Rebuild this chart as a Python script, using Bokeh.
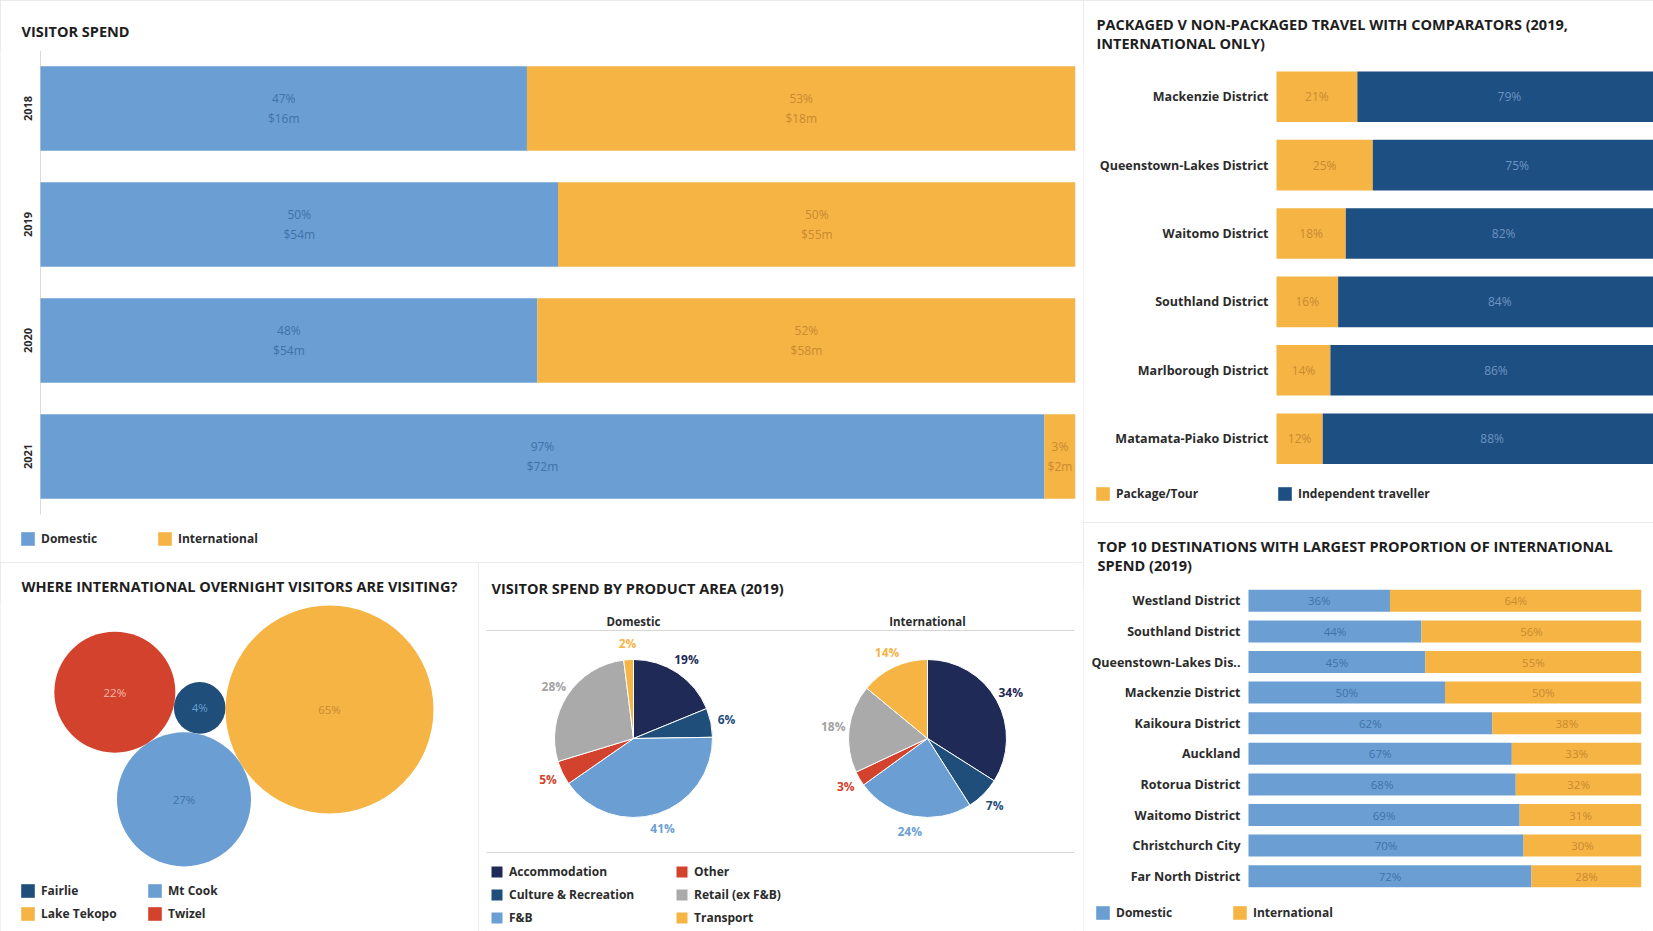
import math
from bokeh.plotting import figure
from bokeh.models import (ColumnDataSource, FactorRange, Range1d, Legend, LegendItem, Title, Span,
                          CategoricalAxis)
from bokeh.layouts import row, column
from bokeh.core.properties import value
from bokeh.embed import file_html
from bokeh.resources import INLINE

FONT = "Open Sans"

# ---------------- data ----------------
years = ["2018", "2019", "2020", "2021"]
spend_dom_pct = [47, 50, 48, 97]
spend_intl_pct = [53, 50, 52, 3]
spend_dom_m = [16, 54, 54, 72]
spend_intl_m = [18, 55, 58, 2]

pkg_districts = ["Mackenzie District", "Queenstown-Lakes District", "Waitomo District",
                 "Southland District", "Marlborough District", "Matamata-Piako District"]
pkg_package = [21, 25, 18, 16, 14, 12]
pkg_independent = [79, 75, 82, 84, 86, 88]

top_dest = ["Westland District", "Southland District", "Queenstown-Lakes Dis..", "Mackenzie District",
            "Kaikoura District", "Auckland", "Rotorua District", "Waitomo District",
            "Christchurch City", "Far North District"]
top_dom = [36, 44, 45, 50, 62, 67, 68, 69, 70, 72]
top_intl = [64, 56, 55, 50, 38, 33, 32, 31, 30, 28]

places = ["Fairlie", "Lake Tekopo", "Mt Cook", "Twizel"]
place_pct = [4, 65, 27, 22]

areas = ["Accommodation", "Culture & Recreation", "F&B", "Other", "Retail (ex F&B)", "Transport"]
area_dom = [19, 6, 41, 5, 28, 2]
area_intl = [34, 7, 24, 3, 18, 14]
pie_groups = ["Domestic", "International"]

# ---------------- colours ----------------
C_DOM = "#6b9fd3"
C_INT = "#f6b445"
C_IND = "#1e4f83"
C_DOM_TXT = "#3f72a9"
C_INT_TXT = "#c98a30"
C_IND_TXT = "#6d93c0"
place_colors = ["#1f4e7a", "#f6b445", "#6b9fd3", "#d2422c"]
place_text = ["#6b9fd3", "#c98a30", "#3f72a9", "#f6b9aa"]
area_colors = ["#1f2a56", "#1f4e7a", "#6b9fd3", "#d2422c", "#aaaaaa", "#f6b445"]
area_text = ["#1f2a56", "#1f4e7a", "#6b9fd3", "#d2422c", "#a3a3a3", "#f6b445"]
PANEL_LINE = "#e4e4e4"
LABEL_COLOR = "#2b2b2b"
TITLE_SIZE = "14.5px"


def base_fig(w, h, xr, yr, borders, **kw):
    p = figure(width=w, height=h, x_range=xr, y_range=yr, output_backend="svg",
               toolbar_location=None, title=None, x_axis_location=None, y_axis_location=None, **kw)
    p.min_border_left, p.min_border_right, p.min_border_top, p.min_border_bottom = borders
    p.frame_align = False
    p.outline_line_color = None
    p.grid.grid_line_color = None
    p.grid.visible = False
    p.background_fill_color = "white"
    p.border_fill_color = "white"
    p.styles = {"outline": "1px solid " + PANEL_LINE, "outline-offset": "-1px"}
    return p


def add_title(p, text, offset, standoff):
    t = Title(text=text, align="left", offset=offset, text_font=FONT, text_font_style="bold",
              text_font_size=TITLE_SIZE, text_color="#1e1e1e", standoff=standoff, text_line_height=1.0)
    p.add_layout(t, "above")


def make_legend(items, loc, glyph, label_w, nrows=None, orientation="horizontal", spacing=0):
    kw = {}
    if nrows:
        kw["nrows"] = nrows
    leg = Legend(items=items, location=loc, orientation=orientation, **kw)
    leg.glyph_width = glyph
    leg.glyph_height = glyph
    leg.label_width = label_w
    leg.label_height = glyph
    leg.label_standoff = 5
    leg.padding = 0
    leg.margin = 0
    leg.spacing = spacing
    leg.border_line_color = None
    leg.background_fill_alpha = 0
    leg.label_text_font = FONT
    leg.label_text_font_style = "bold"
    leg.label_text_font_size = "12px"
    leg.label_text_color = LABEL_COLOR
    leg.label_text_baseline = "middle"
    return leg


def category_labels(p, src, ycol, tcol, size="12.5px"):
    p.text(x=0, y=ycol, text=tcol, source=src, x_offset=-8, text_align="right", text_baseline="middle",
           text_font=value(FONT), text_font_style="bold", text_font_size=size, text_color=LABEL_COLOR)


# ================= 1. VISITOR SPEND =================
W1, H1, TOP1 = 1083, 562, 50
BAR0_1, PXU_1, ROW_1 = 40, 10.35, 116.0      # px where 0% sits, px per %, px per row
n1 = len(years)
p1 = base_fig(W1, H1,
              Range1d(-BAR0_1 / PXU_1, (W1 - 8 - BAR0_1) / PXU_1),
              Range1d(n1 - 0.5 - (H1 - TOP1) / ROW_1, n1 - 0.5),
              (0, 8, TOP1, 0))
src1 = ColumnDataSource(dict(
    year=years,
    pos=[n1 - 1 - i for i in range(n1)],
    dom=spend_dom_pct,
    tot=[d + i for d, i in zip(spend_dom_pct, spend_intl_pct)],
    dom_mid=[d / 2 for d in spend_dom_pct],
    int_mid=[d + i / 2 for d, i in zip(spend_dom_pct, spend_intl_pct)],
    dom_lab=[f"{p}%\n${m}m" for p, m in zip(spend_dom_pct, spend_dom_m)],
    int_lab=[f"{p}%\n${m}m" for p, m in zip(spend_intl_pct, spend_intl_m)],
))
p1.segment(x0=0, y0=-0.5, x1=0, y1=n1 - 0.5, line_color="#dadada", line_width=1)
r1d = p1.hbar(y="pos", left=0, right="dom", height=0.73, fill_color=C_DOM, line_color=None, source=src1)
r1i = p1.hbar(y="pos", left="dom", right="tot", height=0.73, fill_color=C_INT, line_color=None, source=src1)
for xcol, tcol, col in [("dom_mid", "dom_lab", C_DOM_TXT), ("int_mid", "int_lab", C_INT_TXT)]:
    p1.text(x=xcol, y="pos", text=tcol, source=src1, text_align="center", text_baseline="middle",
            text_font=value(FONT), text_font_size="12px", text_color=col, text_line_height=1.2)
p1.text(x=0, y="pos", text="year", source=src1, angle=math.pi / 2, x_offset=-13,
        text_align="center", text_baseline="middle", text_font=value(FONT), text_font_style="bold",
        text_font_size="11px", text_color=LABEL_COLOR)
add_title(p1, "VISITOR SPEND", 21, 20)
p1.add_layout(make_legend([LegendItem(label="Domestic", renderers=[r1d]),
                           LegendItem(label="International", renderers=[r1i])],
                          (19, 15), 17, 115))

# ================= 2. PACKAGED =================
W2, H2, TOP2 = 570, 522, 62
BAR0_2, PXU_2, ROW_2 = 193, 3.85, 68.4
n2 = len(pkg_districts)
p2 = base_fig(W2, H2,
              Range1d(-BAR0_2 / PXU_2, (W2 - BAR0_2) / PXU_2),
              Range1d(n2 - 0.5 - (H2 - TOP2) / ROW_2, n2 - 0.5),
              (0, 0, TOP2, 0))
src2 = ColumnDataSource(dict(
    d=pkg_districts, pos=[n2 - 1 - i for i in range(n2)], pk=pkg_package,
    tot=[a + b for a, b in zip(pkg_package, pkg_independent)],
    pk_mid=[a / 2 for a in pkg_package],
    ind_mid=[a + b / 2 for a, b in zip(pkg_package, pkg_independent)],
    pk_lab=[f"{a}%" for a in pkg_package],
    ind_lab=[f"{b}%" for b in pkg_independent],
))
r2p = p2.hbar(y="pos", left=0, right="pk", height=0.74, fill_color=C_INT, line_color=None, source=src2)
r2i = p2.hbar(y="pos", left="pk", right="tot", height=0.74, fill_color=C_IND, line_color=None, source=src2)
for xcol, tcol, col in [("pk_mid", "pk_lab", C_INT_TXT), ("ind_mid", "ind_lab", C_IND_TXT)]:
    p2.text(x=xcol, y="pos", text=tcol, source=src2, text_align="center", text_baseline="middle",
            text_font=value(FONT), text_font_size="12px", text_color=col)
category_labels(p2, src2, "pos", "d")
add_title(p2, "PACKAGED V NON-PACKAGED TRAVEL WITH COMPARATORS (2019,\nINTERNATIONAL ONLY)", 13, 20)
p2.add_layout(make_legend([LegendItem(label="Package/Tour", renderers=[r2p]),
                           LegendItem(label="Independent traveller", renderers=[r2i])],
                          (11, 20), 17, 160))

# ================= 3. TOP 10 =================
W3, H3, TOP3, RIGHT3 = 570, 409, 63, 12
BAR0_3, PXU_3, ROW_3 = 165, 3.93, 30.6
n3 = len(top_dest)
p3 = base_fig(W3, H3,
              Range1d(-BAR0_3 / PXU_3, (W3 - RIGHT3 - BAR0_3) / PXU_3),
              Range1d(n3 - 0.5 - (H3 - TOP3) / ROW_3, n3 - 0.5),
              (0, RIGHT3, TOP3, 0))
src3 = ColumnDataSource(dict(
    d=top_dest, pos=[n3 - 1 - i for i in range(n3)], dom=top_dom,
    tot=[a + b for a, b in zip(top_dom, top_intl)],
    dom_mid=[a / 2 for a in top_dom],
    int_mid=[a + b / 2 for a, b in zip(top_dom, top_intl)],
    dom_lab=[f"{a}%" for a in top_dom],
    int_lab=[f"{b}%" for b in top_intl],
))
r3d = p3.hbar(y="pos", left=0, right="dom", height=0.72, fill_color=C_DOM, line_color=None, source=src3)
r3i = p3.hbar(y="pos", left="dom", right="tot", height=0.72, fill_color=C_INT, line_color=None, source=src3)
for xcol, tcol, col in [("dom_mid", "dom_lab", C_DOM_TXT), ("int_mid", "int_lab", C_INT_TXT)]:
    p3.text(x=xcol, y="pos", text=tcol, source=src3, text_align="center", text_baseline="middle",
            text_font=value(FONT), text_font_size="11.5px", text_color=col)
category_labels(p3, src3, "pos", "d")
add_title(p3, "TOP 10 DESTINATIONS WITH LARGEST PROPORTION OF INTERNATIONAL\nSPEND (2019)", 14, 21)
p3.add_layout(make_legend([LegendItem(label="Domestic", renderers=[r3d]),
                           LegendItem(label="International", renderers=[r3i])],
                          (11, 10), 17, 115))

# ================= 4. BUBBLES =================
BUBBLE_K = 12.9          # px per sqrt(percent)
FIRST_ANGLE = math.radians(211.7)


def tangent_center(c1, c2, r, side):
    (x1, y1, r1), (x2, y2, r2) = c1, c2
    dx, dy = x2 - x1, y2 - y1
    d = math.hypot(dx, dy)
    a, b = r1 + r, r2 + r
    t = (a * a - b * b + d * d) / (2 * d)
    h = math.sqrt(max(a * a - t * t, 0.0))
    ux, uy = dx / d, dy / d
    return (x1 + t * ux - side * h * uy, y1 + t * uy + side * h * ux, r)


rad = {p: BUBBLE_K * math.sqrt(v) for p, v in zip(places, place_pct)}
cA = (0.0, 0.0, rad["Lake Tekopo"])
dAB = rad["Lake Tekopo"] + rad["Mt Cook"]
cB = (dAB * math.cos(FIRST_ANGLE), dAB * math.sin(FIRST_ANGLE), rad["Mt Cook"])
cC = tangent_center(cA, cB, rad["Fairlie"], -1)
cD = tangent_center(cB, cC, rad["Twizel"], +1)
centers = {"Lake Tekopo": cA, "Mt Cook": cB, "Fairlie": cC, "Twizel": cD}

W4, H4, TOP4 = 478, 369, 40
CX4, CY4 = 329, 147          # px position of the packing origin inside the panel
p4 = base_fig(W4, H4, Range1d(-CX4, W4 - CX4), Range1d(-(H4 - CY4), CY4 - TOP4), (0, 0, TOP4, 0))
src4 = ColumnDataSource(dict(
    place=places,
    x=[centers[p][0] for p in places],
    y=[centers[p][1] for p in places],
    r=[centers[p][2] for p in places],
    color=place_colors, tcolor=place_text,
    lab=[f"{v}%" for v in place_pct],
))
p4.circle(x="x", y="y", radius="r", fill_color="color", line_color=None, source=src4)
r4leg = p4.rect(x="x", y="y", width=0, height=0, fill_color="color", line_color=None, source=src4)
p4.text(x="x", y="y", text="lab", source=src4, text_align="center", text_baseline="middle",
        text_font=value(FONT), text_font_size="11.5px", text_color="tcolor")
add_title(p4, "WHERE INTERNATIONAL OVERNIGHT VISITORS ARE VISITING?", 21, 13)
p4.add_layout(make_legend([LegendItem(label=pl, renderers=[r4leg], index=i) for i, pl in enumerate(places)],
                          (19, 9), 17, 99, nrows=2, orientation="vertical", spacing=6))

# ================= 5. PIES =================
W5, H5, TOP5 = 605, 369, 68
CY5 = 176          # px of pie centres
SEP5 = 290         # px of the separator above the legend
p5 = base_fig(W5, H5, FactorRange(*pie_groups), Range1d(-(H5 - CY5), CY5 - TOP5), (8, 9, TOP5, 0))
PIE_R = 79
LAB_R = 95
pie = {k: [] for k in ["grp", "area", "start", "end", "color", "lab", "lcol", "dx", "dy"]}
for g, vals in zip(pie_groups, [area_dom, area_intl]):
    tot = sum(vals)
    cum = 0
    for a, v, c, tc in zip(areas, vals, area_colors, area_text):
        f0 = cum / tot
        cum += v
        f1 = cum / tot
        mid = math.pi * (f0 + f1)
        pie["grp"].append(g)
        pie["area"].append(a)
        pie["start"].append(math.pi / 2 - 2 * math.pi * f1)
        pie["end"].append(math.pi / 2 - 2 * math.pi * f0)
        pie["color"].append(c)
        pie["lab"].append(f"{v}%")
        pie["lcol"].append(tc)
        pie["dx"].append(LAB_R * math.sin(mid))
        pie["dy"].append(-LAB_R * math.cos(mid))
src5 = ColumnDataSource(pie)
r5 = p5.wedge(x="grp", y=0, radius=PIE_R, radius_units="screen", start_angle="start", end_angle="end",
              direction="anticlock", fill_color="color", line_color="white", line_width=1, source=src5)
p5.text(x="grp", y=0, text="lab", x_offset="dx", y_offset="dy", source=src5, text_align="center",
        text_baseline="middle", text_font=value(FONT), text_font_size="12px", text_font_style="bold",
        text_color="lcol")
ax5 = CategoricalAxis()
ax5.axis_line_color = "#d6d6d6"
ax5.major_tick_line_color = None
ax5.minor_tick_line_color = None
ax5.major_tick_out = 0
ax5.major_tick_in = 0
ax5.major_label_text_font = FONT
ax5.major_label_text_font_style = "bold"
ax5.major_label_text_font_size = "11.5px"
ax5.major_label_text_color = LABEL_COLOR
ax5.major_label_standoff = 2
p5.add_layout(ax5, "above")
p5.add_layout(Span(location=-(SEP5 - CY5), dimension="width", line_color="#d6d6d6", line_width=1))
add_title(p5, "VISITOR SPEND BY PRODUCT AREA (2019)", 5, 26)
p5.add_layout(make_legend([LegendItem(label=a, renderers=[r5], index=i) for i, a in enumerate(areas)],
                          (3, 5), 15, 159, nrows=3, orientation="vertical", spacing=6))

layout = row(column(p1, row(p4, p5)), column(p2, p3))

open("out.html", "w").write(file_html(layout, INLINE))
